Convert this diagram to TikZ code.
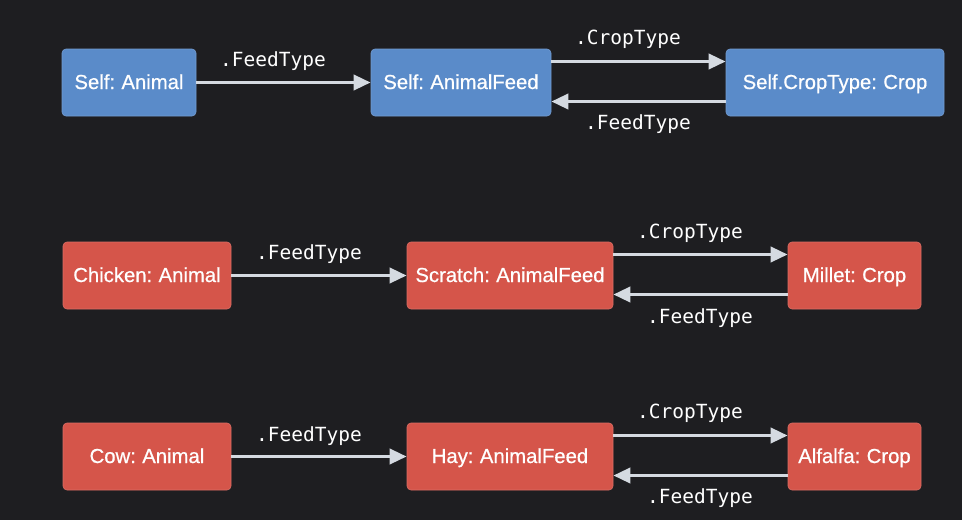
\documentclass[tikz,border=0pt]{standalone}
\usepackage{fontspec}
\newfontfamily\boxfont{Liberation Sans}[FakeBold=0.6, WordSpace=0.8]
\newfontfamily\monofont{DejaVu Sans Mono}
\usetikzlibrary{arrows.meta}
\definecolor{bgc}{HTML}{1E1E21}
\definecolor{bluebox}{HTML}{5A8BC9}
\definecolor{redbox}{HTML}{D5554A}
\definecolor{arrc}{HTML}{D5DAE1}
\tikzset{
  box/.style={rounded corners=4pt, minimum height=67pt, inner sep=0pt, text=white,
    text height=17.5pt, text depth=4.5pt,
    font=\boxfont\fontsize{20.3}{22}\selectfont},
  bluenode/.style={box, fill=bluebox, draw=bluebox!85!white, line width=0.6pt},
  rednode/.style={box, fill=redbox, draw=redbox!85!white, line width=0.6pt},
  arr/.style={draw=arrc, line width=3.6pt, -{Triangle[length=17pt,width=15pt]}},
  lbl/.style={text=white, font=\monofont\fontsize{19.5}{21}\selectfont, inner sep=0pt}
}
\begin{document}
\begin{tikzpicture}[x=1pt,y=-1pt]
\fill[bgc] (0,0) rectangle (962,520);
\useasboundingbox (0,0) rectangle (962,520);
% row 1
\node[bluenode, minimum width=134pt] (a1) at (129,82.5) {Self: Animal};
\node[bluenode, minimum width=180pt] (b1) at (461,82.5) {Self: AnimalFeed};
\node[bluenode, minimum width=218pt] (c1) at (835,82.5) {Self.CropType: Crop};
% row 2
\node[rednode, minimum width=168pt] (a2) at (147,275.5) {Chicken: Animal};
\node[rednode, minimum width=206pt] (b2) at (510,275.5) {Scratch: AnimalFeed};
\node[rednode, minimum width=133pt] (c2) at (854.5,275.5) {Millet: Crop};
% row 3
\node[rednode, minimum width=168pt] (a3) at (147,456.5) {Cow: Animal};
\node[rednode, minimum width=206pt] (b3) at (510,456.5) {Hay: AnimalFeed};
\node[rednode, minimum width=133pt] (c3) at (854.5,456.5) {Alfalfa: Crop};
% arrows
\foreach \r in {1,2,3}{
  \draw[arr] (a\r.east) -- (b\r.west);
  \draw[arr] ([yshift=21pt]b\r.east) -- ([yshift=21pt]c\r.west);
  \draw[arr] ([yshift=-19pt]c\r.west) -- ([yshift=-19pt]b\r.east);
}
% labels
\node[lbl] (l1a) at (273,61.5) {.FeedType};
\node[lbl] (l1b) at (628,39.5) {.CropType};
\node[lbl] (l1c) at (638,124.5) {.FeedType};
\node[lbl] (l2a) at (309,254.5) {.FeedType};
\node[lbl] (l2b) at (690,233.5) {.CropType};
\node[lbl] (l2c) at (700,318.5) {.FeedType};
\node[lbl] (l3a) at (309,436.5) {.FeedType};
\node[lbl] (l3b) at (690,413.5) {.CropType};
\node[lbl] (l3c) at (700,498) {.FeedType};
\end{tikzpicture}
\end{document}
